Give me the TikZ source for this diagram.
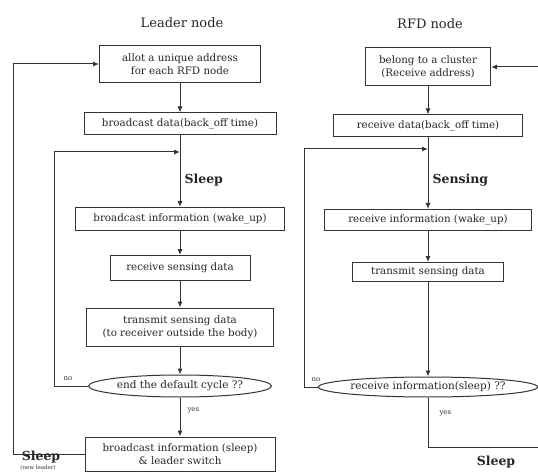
\documentclass[tikz,border=0pt]{standalone}
\usepackage{fontspec}
\setmainfont{DejaVu Serif}
\usetikzlibrary{arrows.meta,shapes.geometric}
\begin{document}
\begin{tikzpicture}[x=1pt,y=-1pt,
  boxn/.style={draw=black!80,line width=1pt,rectangle,inner sep=0pt,align=center,font=\fontsize{10.3}{12.5}\selectfont,text=black!85},
  ellin/.style={draw=black!80,line width=1pt,ellipse,inner sep=0pt,align=center,font=\fontsize{10.5}{12}\selectfont,text=black!85},
  arr/.style={draw=black!80,line width=1pt,-{Latex[length=6pt,width=5pt]}},
  title/.style={font=\fontsize{13}{15}\selectfont,text=black!85},
  state/.style={font=\bfseries\fontsize{12.5}{14}\selectfont,text=black!85},
  small/.style={font=\fontsize{7}{8}\selectfont,text=black!80}
]
\useasboundingbox (0,0) rectangle (538,473);
\fill[white] (0,0) rectangle (538,473);

% ---------- Leader node ----------
\node[title] (tl) at (182,23) {Leader node};
\node[boxn,minimum width=161pt,minimum height=37pt] (b1) at (180,64) {allot a unique address\\for each RFD node};
\node[boxn,minimum width=192pt,minimum height=22pt] (b2) at (180,124) {broadcast data(back\_off time)};
\node[boxn,minimum width=209pt,minimum height=23pt] (b3) at (180,219) {broadcast information (wake\_up)};
\node[boxn,minimum width=140pt,minimum height=25pt] (b4) at (180,268) {receive sensing data};
\node[boxn,minimum width=187pt,minimum height=38pt] (b5) at (180,327) {transmit sensing data\\(to receiver outside the body)};
\node[ellin,minimum width=183pt,minimum height=22pt] (e1) at (180,386) {end the default cycle ??};
\node[boxn,minimum width=190pt,minimum height=34pt] (b6) at (180,454) {broadcast information (sleep)\\\& leader switch};

\coordinate (j1) at (180,152);
\coordinate (n1) at (54,386);
\coordinate (o1) at (13,454);

\draw[arr] (b1.south) -- (b2.north);
\draw[arr] (b2.south) -- (b3.north);
\draw[arr] (b3.south) -- (b4.north);
\draw[arr] (b4.south) -- (b5.north);
\draw[arr] (b5.south) -- (e1.north);
\draw[arr] (e1.south) -- (b6.north);
\draw[arr] (e1.west) -- (n1) |- (j1);
\draw[arr] (b6.west) -- (o1) |- (b1.west);

\node[state,anchor=west] (sl1) at (181,180) {Sleep};
\node[small,anchor=south west] (no1) at (60,384) {no};
\node[small,anchor=west] (yes1) at (184,410) {yes};
\node[state] (sl0) at (41,457) {Sleep};
\node[small,font=\fontsize{5.5}{6}\selectfont] (nl) at (38,468) {(new leader)};

% ---------- RFD node ----------
\node[title] (tr) at (430,24) {RFD node};
\node[boxn,minimum width=125pt,minimum height=38pt] (r1) at (428,67) {belong to a cluster\\(Receive address)};
\node[boxn,minimum width=189pt,minimum height=22pt] (r2) at (428,126) {receive data(back\_off time)};
\node[boxn,minimum width=207pt,minimum height=21pt] (r3) at (428,220) {receive information (wake\_up)};
\node[boxn,minimum width=151pt,minimum height=19pt] (r4) at (428,272) {transmit sensing data};
\node[ellin,minimum width=206pt,minimum height=20pt] (e2) at (428,387) {receive information(sleep) ??};

\coordinate (j2) at (428,149);
\coordinate (n2) at (304,387);
\coordinate (y2) at (428,447);
\coordinate (o2) at (545,447);

\draw[arr] (r1.south) -- (r2.north);
\draw[arr] (r2.south) -- (r3.north);
\draw[arr] (r3.south) -- (r4.north);
\draw[arr] (r4.south) -- (e2.north);
\draw[arr] (e2.west) -- (n2) |- (j2);
\draw[arr] (e2.south) -- (y2) -- (o2) |- (r1.east);

\node[state,anchor=west] (se) at (429,180) {Sensing};
\node[small,anchor=south west] (no2) at (308,385) {no};
\node[small,anchor=west] (yes2) at (436,413) {yes};
\node[state] (sl2) at (496,462) {Sleep};
\end{tikzpicture}
\end{document}
